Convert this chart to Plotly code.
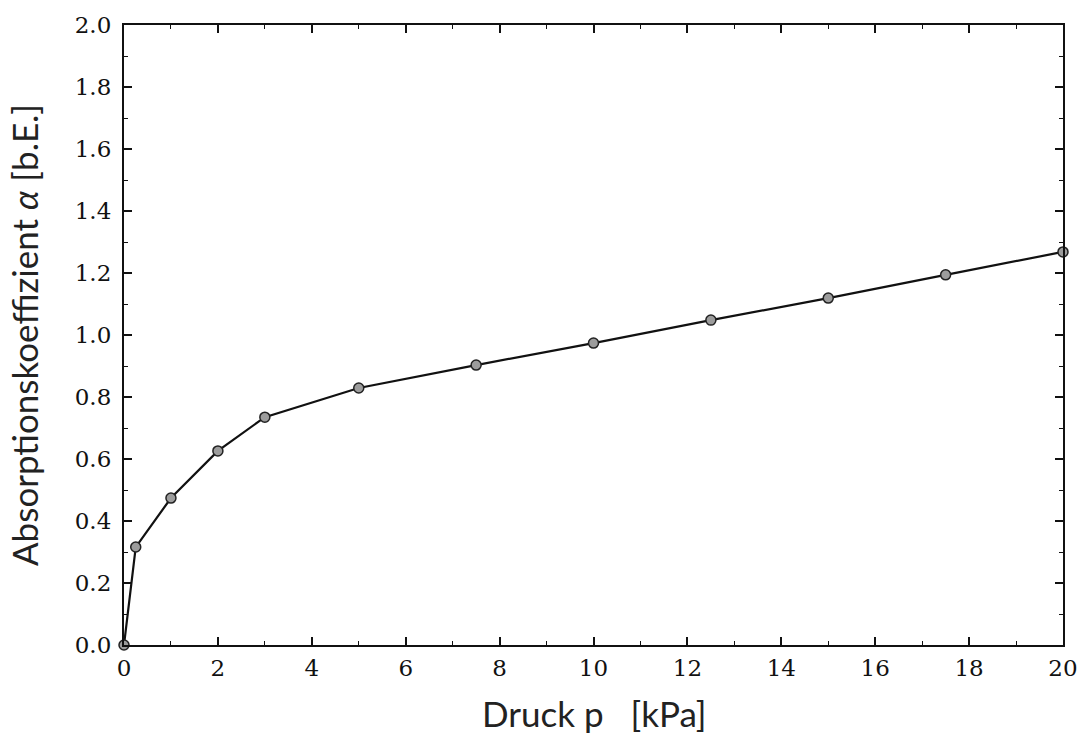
import plotly.graph_objects as go

pressure_kpa = [0, 0.25, 1, 2, 3, 5, 7.5, 10, 12.5, 15, 17.5, 20]
absorption = [0.0, 0.316, 0.474, 0.626, 0.735, 0.829, 0.903, 0.974, 1.048, 1.119, 1.194, 1.268]

x_ticks = list(range(0, 21, 2))
y_ticks = [round(0.2 * i, 1) for i in range(11)]
y_tick_labels = [f"{v:.1f}" for v in y_ticks]

x_title = "Druck p   [kPa]"
y_title = "Absorptionskoeffizient <i>α</i> [b.E.]"

fig = go.Figure()
fig.add_trace(go.Scatter(
    x=pressure_kpa, y=absorption, mode="lines+markers",
    line=dict(color="#111111", width=2.2),
    marker=dict(size=10, color="#9c9c9c", line=dict(color="#222222", width=1.5)),
    cliponaxis=False, showlegend=False,
))

tick_font = dict(family="DejaVu Serif", size=23, color="#111111")
title_font = dict(family="Lato", size=35, color="#222222")

common = dict(
    ticks="inside", ticklen=8, tickwidth=1.5, tickcolor="#111111",
    showline=True, linecolor="#111111", linewidth=2.2, mirror="ticks",
    showgrid=False, zeroline=False, tickfont=tick_font, automargin=False,
    ticklabeloverflow="allow",
)

fig.update_layout(
    width=1078, height=737,
    margin=dict(l=124, r=15, t=25, b=92),
    paper_bgcolor="white", plot_bgcolor="white",
    xaxis=dict(
        range=[0, 20], tickvals=x_ticks, ticktext=[str(v) for v in x_ticks],
        minor=dict(dtick=1, tick0=0, ticks="inside", ticklen=4, tickwidth=1.2, tickcolor="#111111"),
        ticklabelstandoff=1,
        **common,
    ),
    yaxis=dict(
        range=[0, 2.0], tickvals=y_ticks, ticktext=y_tick_labels,
        minor=dict(dtick=0.1, tick0=0, ticks="inside", ticklen=4, tickwidth=1.2, tickcolor="#111111"),
        ticklabelstandoff=6,
        **common,
    ),
    annotations=[
        dict(text=x_title, xref="paper", yref="paper", x=0.5, y=-0.072,
             xanchor="center", yanchor="top", showarrow=False, font=title_font),
        dict(text=y_title, xref="paper", yref="paper", x=0, y=0.5, xshift=-100,
             xanchor="center", yanchor="middle", textangle=-90, showarrow=False, font=title_font),
    ],
)

fig.write_html("out.html")
